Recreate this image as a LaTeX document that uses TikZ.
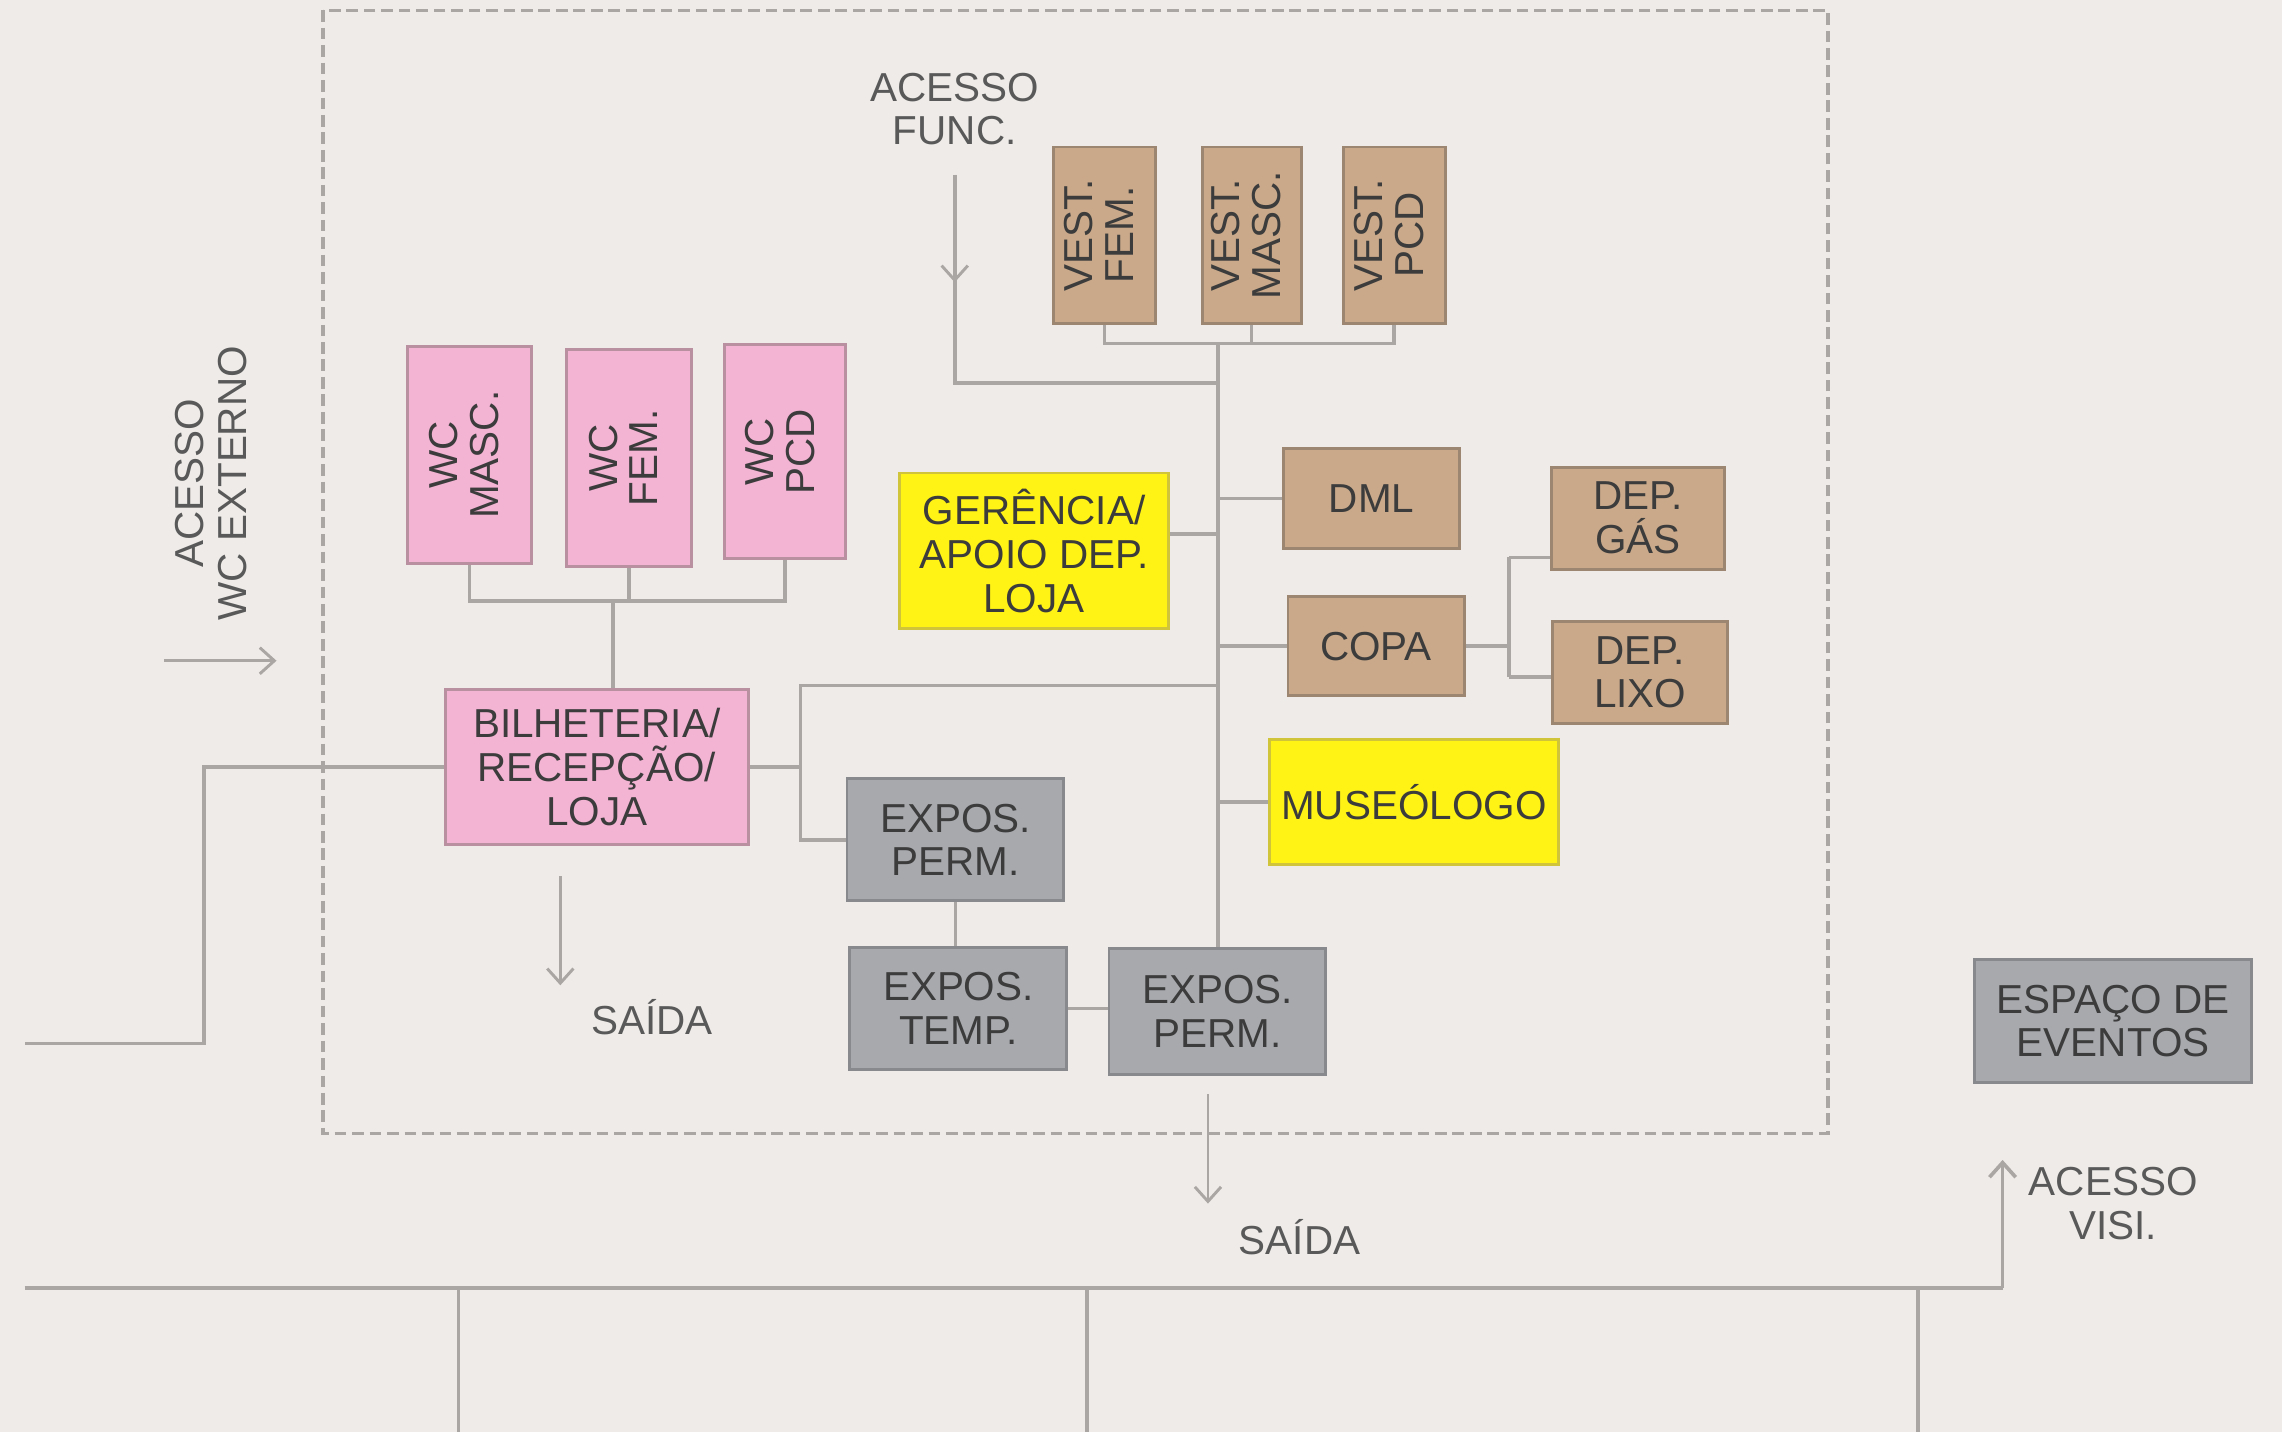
\documentclass[tikz,border=0pt]{standalone}
\usepackage{fontspec}
\setmainfont{Liberation Sans}
\usetikzlibrary{arrows.meta}
\definecolor{bg}{HTML}{EEEBE8}
\definecolor{ln}{HTML}{A9A6A4}
\definecolor{txt}{HTML}{3C3C3C}
\definecolor{pinkf}{HTML}{F3B3D3}
\definecolor{pinkd}{HTML}{B8909F}
\definecolor{tanf}{HTML}{C9A98A}
\definecolor{tand}{HTML}{9C8672}
\definecolor{yelf}{HTML}{FFF315}
\definecolor{yeld}{HTML}{CFC43A}
\definecolor{grf}{HTML}{A7A9AD}
\definecolor{grd}{HTML}{88898C}
\tikzset{
  box/.style={rectangle, inner sep=0pt, line width=1pt, align=center, text=txt,
    font=\fontsize{13.9}{15}\selectfont},
  pinkbox/.style={box, fill=pinkf, draw=pinkd},
  tanbox/.style={box, fill=tanf, draw=tand},
  yelbox/.style={box, fill=yelf, draw=yeld},
  graybox/.style={box, fill=grf, draw=grd},
  conn/.style={draw=ln, line width=1.25pt},
  arr/.style={draw=ln, line width=1pt, -{Straight Barb[length=5pt,width=9pt]}},
  lbl/.style={text=txt!85, align=center, inner sep=0pt, font=\fontsize{13.9}{15}\selectfont},
}
\newcommand{\rottwo}[2]{\rotatebox{90}{\begin{tabular}{@{}c@{}}#1\\[-1pt]#2\end{tabular}}}
\begin{document}
\begin{tikzpicture}[x=0.5pt,y=-0.5pt]
\useasboundingbox (0,0) rectangle (1568,984);
\fill[bg] (0,0) rectangle (1568,984);
% dashed zone
\draw[ln, line width=1.1pt, dash pattern=on 4pt off 2pt] (222,7) rectangle (1256,779);

% boxes
\node[tanbox, minimum width=35pt, minimum height=60.5pt] (vf) at (759,161.5) {\rottwo{VEST.}{FEM.}};
\node[tanbox, minimum width=34pt, minimum height=60.5pt] (vm) at (860,161.5) {\rottwo{VEST.}{MASC.}};
\node[tanbox, minimum width=35pt, minimum height=60.5pt] (vp) at (958,161.5) {\rottwo{VEST.}{PCD}};

\node[pinkbox, minimum width=42.5pt, minimum height=74.5pt] (wm) at (322.5,312.5) {\rottwo{WC}{MASC.}};
\node[pinkbox, minimum width=43pt, minimum height=74.5pt] (wf) at (432,314.5) {\rottwo{WC}{FEM.}};
\node[pinkbox, minimum width=41.5pt, minimum height=73.5pt] (wp) at (539.5,310.5) {\rottwo{WC}{PCD}};

\node[pinkbox, minimum width=104pt, minimum height=53pt] (bil) at (410,527) {BILHETERIA/\\RECEPÇÃO/\\LOJA};
\node[yelbox, minimum width=92.5pt, minimum height=53.5pt] (ger) at (710.5,378.5) {GERÊNCIA/\\APOIO DEP.\\LOJA};
\node[tanbox, minimum width=60.5pt, minimum height=34.5pt] (dml) at (942.5,342.5) {DML};
\node[tanbox, minimum width=60.5pt, minimum height=34pt] (copa) at (945.5,444) {COPA};
\node[tanbox, minimum width=59.5pt, minimum height=35pt] (gas) at (1125.5,356) {DEP.\\GÁS};
\node[tanbox, minimum width=60pt, minimum height=35pt] (lixo) at (1127,462) {DEP.\\LIXO};
\node[yelbox, minimum width=99.5pt, minimum height=43pt] (mus) at (971.5,551) {MUSEÓLOGO};
\node[graybox, minimum width=74.5pt, minimum height=42pt] (ep1) at (656.5,577) {EXPOS.\\PERM.};
\node[graybox, minimum width=74.5pt, minimum height=42pt] (et) at (658.5,693) {EXPOS.\\TEMP.};
\node[graybox, minimum width=74.5pt, minimum height=43pt] (ep2) at (836.5,695) {EXPOS.\\PERM.};
\node[graybox, minimum width=95pt, minimum height=42.5pt] (esp) at (1452,701.5) {ESPAÇO DE\\EVENTOS};

% labels
\node[lbl] (lfunc) at (656,75) {ACESSO\\FUNC.};
\node[lbl, rotate=90] (lwc) at (145,332) {ACESSO\\WC EXTERNO};
\node[lbl] (ls1) at (448,699) {SAÍDA};
\node[lbl] (ls2) at (893,850) {SAÍDA};
\node[lbl] (lvisi) at (1452,827) {ACESSO\\VISI.};

% coordinates
\coordinate (vbus) at (837,236);
\coordinate (wbus) at (421,413);
\coordinate (bj) at (550,471);
\coordinate (af) at (656,120);
\coordinate (afh) at (656,194);
\coordinate (afj) at (656,263);
\coordinate (gj) at (837,367);
\coordinate (cjt) at (1037,383);
\coordinate (cjb) at (1037,465);
\coordinate (lw1) at (140,717);
\coordinate (lw2) at (17,717);
\coordinate (wa) at (113,454);
\coordinate (wb) at (190,454);
\coordinate (s1a) at (385,602);
\coordinate (s1b) at (385,677);
\coordinate (s2a) at (830,752);
\coordinate (s2b) at (830,827);
\coordinate (bl) at (17,885);
\coordinate (br) at (1376,885);
\coordinate (va) at (1376,797);
\coordinate (d1) at (315,984);
\coordinate (d2) at (747,984);
\coordinate (d3) at (1318,984);

% vestiarios
\draw[conn] (vf.south) |- (vbus);
\draw[conn] (vp.south) |- (vbus);
\draw[conn] (vm.south) -- (vm.south |- vbus);
% spine
\draw[conn] (vbus) -- (vbus |- ep2.north);
% acesso func
\draw[conn] (af) -- (afj) -- (afj -| vbus);
\draw[arr] (af) -- (afh);
% branches
\draw[conn] (gj) -- (gj -| ger.east);
\draw[conn] (dml.west) -- (dml.west -| vbus);
\draw[conn] (copa.west) -- (copa.west -| vbus);
\draw[conn] (mus.west) -- (mus.west -| vbus);
\draw[conn] (vbus |- bj) -- (bj) -- (bj |- ep1.west) -- (ep1.west);
\draw[conn] (bil.east) -- (bil.east -| bj);
% copa deps
\draw[conn] (copa.east) -- (copa.east -| cjt);
\draw[conn] (cjt) -- (cjb);
\draw[conn] (cjt) -- (cjt -| gas.west);
\draw[conn] (cjb) -- (cjb -| lixo.west);
% wc
\draw[conn] (wm.south) |- (wp.south |- wbus) -- (wp.south);
\draw[conn] (wf.south) -- (wf.south |- wbus);
\draw[conn] (wbus) -- (wbus |- bil.north);
% bilheteria left
\draw[conn] (bil.west) -- (bil.west -| lw1) -- (lw1) -- (lw2);
% exposicoes
\draw[conn] (ep1.south) -- (ep1.south |- et.north);
\draw[conn] (et.east) -- (et.east -| ep2.west);
% arrows
\draw[arr] (wa) -- (wb);
\draw[arr] (s1a) -- (s1b);
\draw[arr] (s2a) -- (s2b);
% bottom
\draw[conn] (bl) -- (br);
\draw[arr, line width=1.25pt] (br) -- (va);
\draw[conn] (d1 |- bl) -- (d1);
\draw[conn] (d2 |- bl) -- (d2);
\draw[conn] (d3 |- bl) -- (d3);
\end{tikzpicture}
\end{document}
